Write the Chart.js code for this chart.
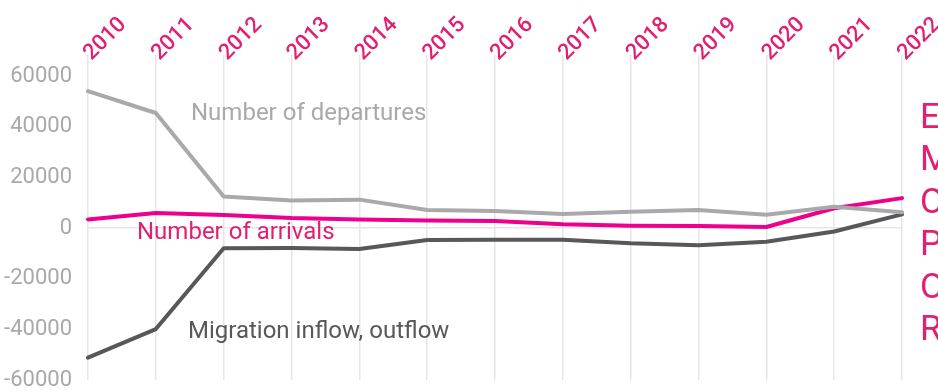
<!DOCTYPE html>
<html>
<head>
<meta charset="utf-8">
<script src="https://cdn.jsdelivr.net/npm/chart.js@4"></script>
<style>
  html, body { margin: 0; padding: 0; background: #fff; }
  #wrap { width: 938px; height: 392px; position: relative; }
</style>
</head>
<body>
<div id="wrap"><canvas id="migration"></canvas></div>
<script>
const years = ['2010', '2011', '2012', '2013', '2014', '2015', '2016', '2017', '2018', '2019', '2020', '2021', '2022'];
const departures = [54000, 45400, 12400, 10900, 11200, 7100, 6700, 5500, 6400, 7100, 5200, 8400, 6200];
const arrivals = [3400, 5900, 5100, 3900, 3400, 3000, 2800, 1500, 900, 800, 400, 7800, 11800];
const migration = [-51200, -39900, -8000, -7900, -8300, -4700, -4600, -4600, -6000, -6800, -5400, -1400, 5400];
const yTicks = [-60000, -40000, -20000, 0, 20000, 40000, 60000];

const MAGENTA = '#ec008c';
const MAGENTA_TEXT = '#e2206f';
const LIGHT = '#a9a9ac';
const DARK = '#58585a';
const FONT = 'Roboto, "Liberation Sans", sans-serif';

// labels written straight onto the plot + the vertical word on the right
const notesPlugin = {
  id: 'notes',
  afterDraw(chart) {
    const ctx = chart.ctx;
    ctx.save();
    ctx.textBaseline = 'middle';
    ctx.textAlign = 'left';
    ctx.font = `24px ${FONT}`;

    ctx.fillStyle = LIGHT;
    ctx.fillText('Number of departures', 191, 114);
    ctx.fillStyle = MAGENTA_TEXT;
    ctx.fillText('Number of arrivals', 137, 233);
    ctx.fillStyle = DARK;
    ctx.fillText('Migration inflow, outflow', 188, 332);

    // vertical word, cut by the canvas edge
    ctx.font = `35px ${FONT}`;
    ctx.fillStyle = MAGENTA_TEXT;
    const letters = ['E', 'M', 'O', 'P', 'O', 'R'];
    letters.forEach((ch, i) => {
      ctx.fillText(ch, 920, 119 + i * 42.5);
    });
    ctx.restore();
  }
};

const ctx = document.querySelector('#migration');
new Chart(ctx, {
  type: 'line',
  data: {
    labels: years,
    datasets: [
      { label: 'Number of departures', data: departures, borderColor: LIGHT, borderWidth: 4 },
      { label: 'Number of arrivals', data: arrivals, borderColor: MAGENTA, borderWidth: 4 },
      { label: 'Migration inflow, outflow', data: migration, borderColor: DARK, borderWidth: 4 }
    ]
  },
  options: {
    responsive: true,
    maintainAspectRatio: false,
    animation: false,
    layout: { padding: { left: 0, right: 36, top: 0, bottom: 12 } },
    elements: {
      point: { radius: 0 },
      line: { tension: 0, borderCapStyle: 'round', borderJoinStyle: 'round' }
    },
    plugins: {
      legend: { display: false },
      tooltip: { enabled: false }
    },
    scales: {
      x: {
        position: 'top',
        offset: false,
        border: { display: false },
        grid: {
          color: '#e6e6e6',
          lineWidth: 1.5,
          drawTicks: true,
          tickLength: 21,
          tickColor: '#e6e6e6'
        },
        ticks: {
          color: MAGENTA_TEXT,
          // tiny line height keeps the rotated year starting right at its tick
          font: { family: FONT, size: 22, weight: 500, lineHeight: 0.02 },
          minRotation: 45,
          maxRotation: 45,
          padding: -2,
          autoSkip: false
        },
        afterFit(scale) {
          scale.height = 76;
          scale.paddingLeft = 0;
          scale.paddingRight = 0;
        }
      },
      y: {
        min: yTicks[0],
        max: yTicks[yTicks.length - 1],
        border: { display: false },
        afterBuildTicks(scale) { scale.ticks = yTicks.map(v => ({ value: v })); },
        grid: {
          drawTicks: false,
          lineWidth: 1.5,
          color: (c) => (c.tick && c.tick.value === 0 ? '#e6e6e6' : 'rgba(0,0,0,0)')
        },
        ticks: {
          color: LIGHT,
          font: { family: FONT, size: 22 },
          padding: 16,
          callback: (v) => String(v)
        },
        afterFit(scale) {
          scale.width = 88;
          scale.paddingTop = 0;
          scale.paddingBottom = 0;
        }
      }
    }
  },
  plugins: [notesPlugin]
});
</script>
</body>
</html>
